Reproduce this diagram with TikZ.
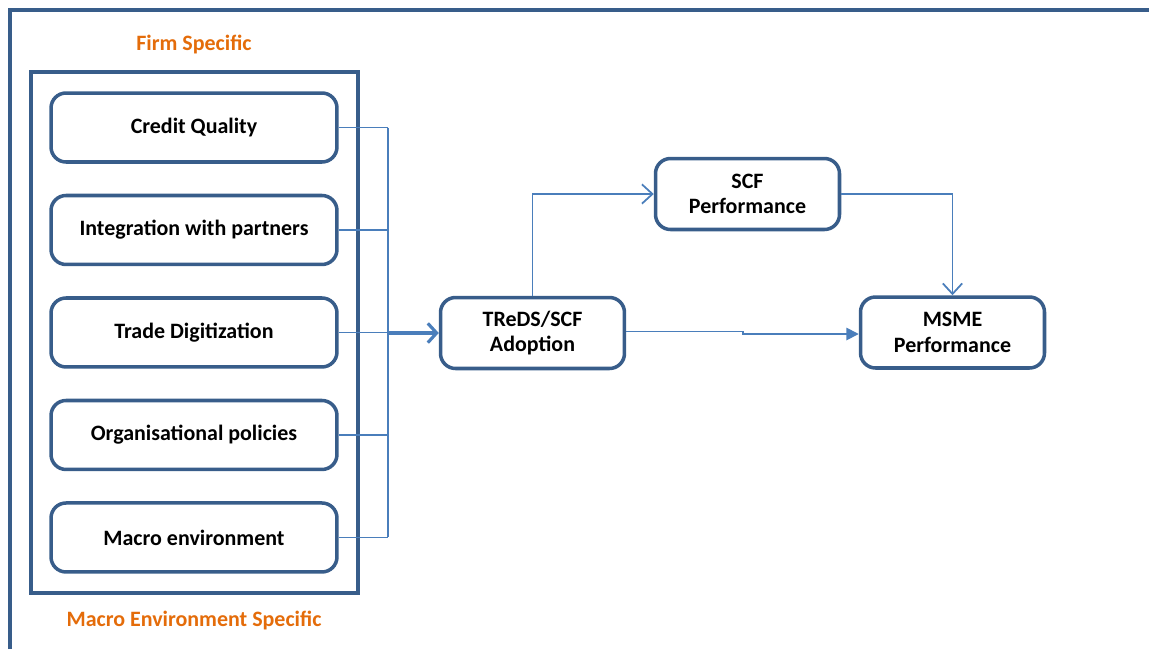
\documentclass[tikz,border=0pt]{standalone}
\usepackage{fontspec}
\setmainfont{Carlito}
\usetikzlibrary{arrows.meta,positioning}
\definecolor{boxblue}{HTML}{385D8A}
\definecolor{linkblue}{HTML}{4A7EBB}
\definecolor{labelorange}{HTML}{E46C0A}

\begin{document}
\begin{tikzpicture}[x=0.02cm,y=-0.02cm,
  factor/.style={draw=boxblue, line width=2pt, rounded corners=0.3cm,
    minimum width=5.72cm, minimum height=1.38cm, inner sep=0pt,
    align=center, font=\fontsize{12.5}{14.5}\selectfont\bfseries},
  stage/.style={factor, minimum width=3.68cm, minimum height=1.42cm},
  grouplabel/.style={text=labelorange, font=\fontsize{12.5}{14.5}\selectfont\bfseries},
  link/.style={draw=linkblue, line width=1pt},
  openarrow/.style={link, -{Straight Barb[length=6pt,width=11pt]}},
  fullarrow/.style={link, -{Triangle[length=7pt,width=7pt]}},
  bigarrow/.style={draw=linkblue, line width=1.8pt, -{Straight Barb[length=5pt,width=11pt]}}]

  \useasboundingbox (0,0) rectangle (1149,649);

  % outer frame (only top and left visible)
  \draw[boxblue, line width=2pt] (10,649) -- (10,10) -- (1149,10);

  % firm specific group
  \draw[boxblue, line width=2pt] (31,72) rectangle (358,593);
  \node[grouplabel] (firmlbl) at (194,45) {Firm Specific};
  \node[grouplabel] (macrolbl) at (194,620) {Macro Environment Specific};

  \node[factor] (cq) at (194,127.5) {Credit Quality};
  \node[factor, below=0.6cm of cq] (ip) {Integration with partners};
  \node[factor, below=0.6cm of ip] (td) {Trade Digitization};
  \node[factor, below=0.6cm of td] (op) {Organisational policies};
  \node[factor, below=0.6cm of op] (me) {Macro environment};

  % outcome side
  \node[stage] (treds) at (532.5,333) {TReDS/SCF\\Adoption};
  \node[stage] (scf) at (747.5,194) {SCF\\Performance};
  \node[stage] (msme) at (952.5,332.5) {MSME\\Performance};

  % bus collecting the factors
  \coordinate (busx) at (388,0);
  \foreach \f in {cq,ip,td,op,me}
    \draw[link] (\f.east) -- (\f.east -| busx);
  \draw[link] (cq.east -| busx) -- (me.east -| busx);
  \draw[bigarrow] (treds.west -| busx) -- (treds.west);

  \draw[openarrow] (treds.north) |- (scf.west);
  \draw[openarrow] (scf.east) -| (msme.north);
  \draw[fullarrow] ([yshift=0.03cm]treds.east) -- ++(117,0) |- ([yshift=-0.03cm]msme.west);

\end{tikzpicture}
\end{document}
